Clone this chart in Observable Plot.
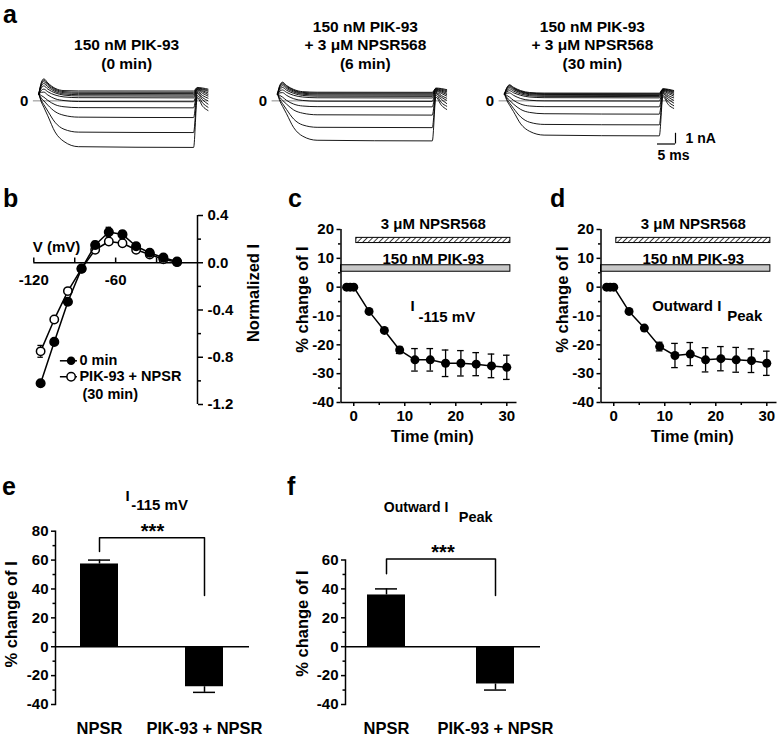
<!DOCTYPE html>
<html>
<head>
<meta charset="utf-8">
<script src="https://cdn.jsdelivr.net/npm/d3@7"></script>
<script src="https://cdn.jsdelivr.net/npm/@observablehq/plot@0.6"></script>
<style>
  body { margin: 0; background: #fff; }
  #fig { position: relative; width: 777px; height: 739px; overflow: hidden; background: #fff;
         font-family: 'Liberation Sans', Arial, Helvetica, sans-serif; font-weight: bold; color: #000; }
  .lab { position: absolute; font-size: 25px; font-weight: bold; line-height: 1; }
</style>
</head>
<body>
<svg width="0" height="0" style="position:absolute">
  <defs>
    <pattern id="hatch" patternUnits="userSpaceOnUse" width="3.8" height="3.8" patternTransform="rotate(45)">
      <rect width="3.8" height="3.8" fill="#fff"></rect>
      <line x1="0" y1="0" x2="0" y2="3.8" stroke="#000" stroke-width="1.5"></line>
    </pattern>
  </defs>
</svg>
<div id="fig"></div>
<script>
// ================= DATA =================
// Panel a: current traces (time in ms, current in nA), one row per voltage step
const traceTimes = [0, 0.7, 1.4, 2.5, 4.5, 7, 11, 43, 44, 45.5, 47];
const traceSteps = [-115, -105, -95, -85, -75, -65, -55, -45, -35, -25, -15];
const traces0min = [
  [0.65, -0.1, -0.6, -1.4, -2.9, -3.8, -4.28, -4.35, 0.3, -0.5, -0.9],
  [0.65, 0.05, -0.35, -0.95, -2.0, -2.65, -2.92, -2.96, 0.5, -0.2, -0.6],
  [0.65, 0.25, 0.0, -0.4, -1.0, -1.35, -1.52, -1.56, 0.7, 0.1, -0.3],
  [0.65, 0.5, 0.35, 0.05, -0.35, -0.55, -0.63, -0.65, 0.8, 0.3, 0.0],
  [0.65, 0.8, 0.82, 0.55, 0.2, 0.03, -0.06, -0.08, 0.9, 0.5, 0.25],
  [0.65, 0.98, 1.1, 0.85, 0.55, 0.37, 0.3, 0.28, 1.0, 0.7, 0.45],
  [0.65, 1.2, 1.4, 1.1, 0.75, 0.54, 0.46, 0.44, 1.05, 0.85, 0.6],
  [0.65, 1.38, 1.62, 1.3, 0.88, 0.65, 0.58, 0.56, 1.1, 0.95, 0.75],
  [0.65, 1.52, 1.8, 1.45, 1.0, 0.76, 0.7, 0.68, 1.15, 1.05, 0.9],
  [0.65, 1.62, 1.95, 1.58, 1.1, 0.86, 0.81, 0.8, 1.2, 1.12, 1.0],
  [0.65, 1.72, 2.06, 1.68, 1.18, 0.96, 0.93, 0.92, 1.25, 1.2, 1.1]
];
const traces6min = [
  [0.65, -0.05, -0.5, -1.2, -2.5, -3.3, -3.68, -3.74, 0.35, -0.4, -0.8],
  [0.65, 0.1, -0.25, -0.8, -1.7, -2.25, -2.47, -2.5, 0.55, -0.15, -0.5],
  [0.65, 0.3, 0.05, -0.3, -0.85, -1.15, -1.3, -1.33, 0.7, 0.15, -0.25],
  [0.65, 0.5, 0.35, 0.05, -0.3, -0.48, -0.54, -0.56, 0.8, 0.35, 0.05],
  [0.65, 0.75, 0.77, 0.52, 0.2, 0.04, -0.03, -0.05, 0.9, 0.5, 0.25],
  [0.65, 0.92, 1.02, 0.8, 0.52, 0.36, 0.29, 0.27, 0.95, 0.7, 0.45],
  [0.65, 1.08, 1.25, 1.0, 0.7, 0.51, 0.44, 0.42, 1.0, 0.82, 0.6],
  [0.65, 1.22, 1.42, 1.15, 0.82, 0.62, 0.55, 0.53, 1.05, 0.92, 0.72],
  [0.65, 1.34, 1.56, 1.27, 0.92, 0.71, 0.65, 0.63, 1.1, 1.0, 0.85],
  [0.65, 1.43, 1.67, 1.37, 1.0, 0.79, 0.73, 0.72, 1.15, 1.08, 0.95],
  [0.65, 1.5, 1.75, 1.44, 1.07, 0.86, 0.81, 0.8, 1.2, 1.15, 1.05]
];
const traces30min = [
  [0.65, 0.0, -0.4, -1.0, -2.15, -2.85, -3.2, -3.27, 0.4, -0.35, -0.7],
  [0.65, 0.15, -0.2, -0.7, -1.5, -2.0, -2.2, -2.24, 0.55, -0.1, -0.45],
  [0.65, 0.3, 0.05, -0.3, -0.8, -1.08, -1.2, -1.24, 0.7, 0.15, -0.2],
  [0.65, 0.5, 0.35, 0.05, -0.3, -0.48, -0.54, -0.56, 0.8, 0.35, 0.05],
  [0.65, 0.72, 0.74, 0.52, 0.22, 0.06, 0.0, -0.02, 0.88, 0.5, 0.28],
  [0.65, 0.86, 0.95, 0.76, 0.52, 0.36, 0.3, 0.28, 0.92, 0.68, 0.45],
  [0.65, 0.98, 1.12, 0.92, 0.65, 0.48, 0.42, 0.4, 0.98, 0.8, 0.6],
  [0.65, 1.08, 1.26, 1.05, 0.76, 0.58, 0.52, 0.5, 1.02, 0.9, 0.72],
  [0.65, 1.16, 1.37, 1.14, 0.84, 0.66, 0.6, 0.58, 1.06, 0.97, 0.82],
  [0.65, 1.22, 1.45, 1.21, 0.9, 0.72, 0.67, 0.66, 1.1, 1.03, 0.9],
  [0.65, 1.27, 1.5, 1.27, 0.96, 0.78, 0.73, 0.72, 1.14, 1.08, 0.97]
];
const traceTitles = [
  "150 nM PIK-93\n(0 min)",
  "150 nM PIK-93\n+ 3 μM NPSR568\n(6 min)",
  "150 nM PIK-93\n+ 3 μM NPSR568\n(30 min)"
];
const scaleBarMs = 5;
const scaleBarNA = 1;

// Panel b: I-V relation (normalized current)
const ivVoltage = [-115, -105, -95, -85, -75, -65, -55, -45, -35, -25, -15];
const iv0min = [-1.02, -0.67, -0.33, -0.05, 0.15, 0.26, 0.24, 0.14, 0.085, 0.043, 0.01];
const iv0minErr = [0.02, 0.02, 0.03, 0.02, 0.03, 0.04, 0.03, 0.02, 0.02, 0.01, 0.01];
const ivDrug = [-0.75, -0.48, -0.24, -0.05, 0.11, 0.18, 0.165, 0.11, 0.07, 0.03, 0.005];
const ivDrugErr = [0.05, 0.02, 0.02, 0.02, 0.02, 0.02, 0.02, 0.02, 0.01, 0.01, 0.01];
const ivXTicks = [-120, -90, -60, -30];
const ivXTickLabels = [-120, -60];
const ivYTicks = [0.4, 0, -0.4, -0.8, -1.2];
const ivYMinor = [0.2, -0.2, -0.6, -1.0];
const ivLegend = ["0 min", "PIK-93 + NPSR", "(30 min)"];

// Panels c, d: time course (% change of I)
const timeMin = [-1.4, -0.7, 0, 3, 6, 9, 12, 15, 18, 21, 24, 27, 30];
const pctI115 = [0, 0, 0, -8.4, -15, -21.8, -25.2, -25.2, -26.4, -26.4, -26.7, -27.3, -27.8];
const pctI115Err = [0, 0, 0, 0.6, 0.8, 1.2, 3.9, 3.9, 4.6, 4.4, 4.0, 4.1, 4.2];
const pctIPeak = [0, 0, 0, -8.4, -14.2, -20.6, -23.7, -23.2, -25.2, -24.8, -25.2, -25.5, -26.4];
const pctIPeakErr = [0, 0, 0, 0.6, 0.8, 1.5, 4.2, 4.0, 4.2, 4.2, 4.3, 4.1, 4.2];
const timeTicks = [0, 10, 20, 30];
const timeMinor = [5, 15, 25];
const pctTicks = [-40, -30, -20, -10, 0, 10, 20];
const pctMinor = [-35, -25, -15, -5, 5, 15];
const npsrBar = [0.5, 30.7];     // application period (min)
const npsrBarLevel = [15.3, 17.1];
const pikBar = [-2.5, 30.7];
const pikBarLevel = [5.35, 7.6];

// Panels e, f: summary bars
const barCats = ["NPSR", "PIK-93 + NPSR"];
const pctChangeI115 = [57.3, -27.7];
const pctChangeI115Err = [2.7, 3.9];
const pctChangePeak = [35.8, -25.8];
const pctChangePeakErr = [4.2, 4.2];
const sigE = {top: 75.4, left: 65.9, right: 35.5, star: 79.5, label: "***"};
const sigF = {top: 60.7, left: 50.5, right: 35.5, star: 65.3, label: "***"};

// ================= DRAWING =================
const fig = document.getElementById("fig");
const FONT = "'Liberation Sans', Arial, Helvetica, sans-serif";
const baseStyle = {fontFamily: FONT, fontSize: "15px", fontWeight: "bold", background: "transparent", overflow: "visible", color: "#000"};
function place(el, left, top) {
  el.style.position = "absolute";
  el.style.left = left + "px";
  el.style.top = top + "px";
  fig.appendChild(el);
}
function letter(ch, left, top) {
  const d = document.createElement("div");
  d.className = "lab"; d.textContent = ch;
  d.style.left = left + "px"; d.style.top = top + "px";
  fig.appendChild(d);
}

// ---- Panel a
function tracePanel(title, traces, left, width, t0px, withScale) {
  const rows = [];
  traces.forEach((arr, i) => arr.forEach((I, j) => rows.push({step: traceSteps[i], t: traceTimes[j], I})));
  const pxPerMs = 3.6;
  const tMax = traceTimes[traceTimes.length - 1];
  const ml = t0px - left;
  const mr = width - ml - tMax * pxPerMs;
  const marks = [
    Plot.ruleY([0], {x1: -1.5, x2: tMax, stroke: "#8a8a8a", strokeWidth: 1}),
    Plot.text(["0"], {x: -1.5, y: 0, dx: -5, textAnchor: "end", lineAnchor: "middle", fontSize: 15}),
    Plot.line(rows, {x: "t", y: "I", z: "step", curve: "monotone-x", stroke: "#000", strokeWidth: 0.9}),
    Plot.text([title], {x: 24.4, frameAnchor: "top", dy: 68.5, lineAnchor: "bottom", lineHeight: 1.2, fontSize: 15.5})
  ];
  if (withScale) {
    const xEnd = 47.5, yBot = -4.03;
    marks.push(
      Plot.ruleY([yBot], {x1: xEnd - scaleBarMs, x2: xEnd, strokeWidth: 1.2}),
      Plot.ruleX([xEnd], {y1: yBot, y2: yBot + scaleBarNA, strokeWidth: 1.2}),
      Plot.text([`${scaleBarNA} nA`], {x: xEnd, y: yBot + scaleBarNA / 2, dx: 10, textAnchor: "start", lineAnchor: "middle", fontSize: 14}),
      Plot.text([`${scaleBarMs} ms`], {x: xEnd - scaleBarMs / 2, y: yBot, dx: 7, dy: 16.5, lineAnchor: "bottom", fontSize: 14})
    );
  }
  const p = Plot.plot({
    width, height: 171,
    marginLeft: ml, marginRight: mr, marginTop: 0, marginBottom: 0,
    x: {domain: [0, tMax], axis: null},
    y: {domain: [-6.6, 9.38], axis: null},
    style: baseStyle,
    marks
  });
  place(p, left, 0);
}
tracePanel(traceTitles[0], traces0min, 0, 240, 38.3, false);
tracePanel(traceTitles[1], traces6min, 240, 230, 277, false);
tracePanel(traceTitles[2], traces30min, 470, 307, 504, true);

// ---- Panel b
{
  const r0 = ivVoltage.map((v, i) => ({v, I: iv0min[i], e: iv0minErr[i]}));
  const r1 = ivVoltage.map((v, i) => ({v, I: ivDrug[i], e: ivDrugErr[i]}));
  const errMarks = (rows) => [
    Plot.ruleX(rows, {x: "v", y1: d => d.I - d.e, y2: d => d.I + d.e, strokeWidth: 1.3}),
    Plot.ruleY(rows.flatMap(d => [{v: d.v, y: d.I - d.e}, {v: d.v, y: d.I + d.e}]), {y: "y", x1: d => d.v - 2, x2: d => d.v + 2, strokeWidth: 1.3})
  ];
  const lx = [-100.5, -88.0], mx = -92.65, ly = [-0.83, -0.965, -1.11];
  const p = Plot.plot({
    width: 270, height: 220,
    marginLeft: 33.3, marginRight: 73, marginTop: 20, marginBottom: 11,
    x: {domain: [-120, 0], axis: null},
    y: {domain: [-1.2, 0.4]},
    style: baseStyle,
    marks: [
      Plot.ruleY([0], {strokeWidth: 1.5}),
      Plot.ruleX([0], {strokeWidth: 1.5}),
      Plot.ruleX(ivXTicks, {x: d => d, y1: 0, y2: 0.04, strokeWidth: 1.5}),
      Plot.text(ivXTickLabels, {x: d => d, y: 0, dy: 17, text: d => String(d), lineAnchor: "middle", fontSize: 15}),
      Plot.text(["V (mV)"], {frameAnchor: "left", y: 0, dx: -1, dy: -11, textAnchor: "start", lineAnchor: "bottom", fontSize: 15}),
      Plot.axisY({anchor: "right", ticks: ivYTicks, tickSize: 5, tickPadding: 5, tickFormat: d => d.toFixed(1), label: null, strokeWidth: 1.5, fontSize: 15}),
      Plot.axisY({anchor: "right", ticks: ivYMinor, tickSize: 3, tickFormat: () => "", label: null, strokeWidth: 1.5}),
      Plot.text(["Normalized I"], {frameAnchor: "right", dx: 56.5, dy: -17, rotate: -90, textAnchor: "middle", lineAnchor: "middle", fontSize: 16.5}),
      ...errMarks(r1),
      Plot.line(r1, {x: "v", y: "I", strokeWidth: 1.5}),
      Plot.dot(r1, {x: "v", y: "I", r: 4.2, fill: "#fff", stroke: "#000", strokeWidth: 1.5}),
      ...errMarks(r0),
      Plot.line(r0, {x: "v", y: "I", strokeWidth: 1.5}),
      Plot.dot(r0, {x: "v", y: "I", r: 4.3, fill: "#000", stroke: "#000"}),
      // legend
      Plot.ruleY([ly[0]], {x1: lx[0], x2: lx[1], strokeWidth: 1.5}),
      Plot.dot([0], {x: mx, y: ly[0], r: 4.3, fill: "#000"}),
      Plot.ruleY([ly[1]], {x1: lx[0], x2: lx[1], strokeWidth: 1.5}),
      Plot.dot([0], {x: mx, y: ly[1], r: 4.2, fill: "#fff", stroke: "#000", strokeWidth: 1.5}),
      Plot.text([ivLegend[0]], {x: lx[1], y: ly[0], dx: 2, textAnchor: "start", lineAnchor: "middle", fontSize: 14.5}),
      Plot.text([ivLegend[1]], {x: lx[1], y: ly[1], dx: 2, textAnchor: "start", lineAnchor: "middle", fontSize: 14.5}),
      Plot.text([ivLegend[2]], {x: lx[1], y: ly[2], dx: 5, textAnchor: "start", lineAnchor: "middle", fontSize: 14.5})
    ]
  });
  place(p, 0, 195);
}

// ---- Panels c, d
function timePanel(left, width, values, errs, titleMarks) {
  const rows = timeMin.map((t, i) => ({t, v: values[i], e: errs[i]}));
  const withErr = rows.filter(d => d.e > 1);
  const xd = [-2.5, 32], yd = [-40, 20];
  const mid = (npsrBar[0] + npsrBar[1]) / 2;
  const p = Plot.plot({
    width, height: 250,
    marginLeft: 70.5, marginRight: width - 70.5 - 176, marginTop: 29, marginBottom: 48,
    x: {domain: xd},
    y: {domain: yd},
    style: baseStyle,
    marks: [
      Plot.rect([npsrBar], {x1: d => d[0], x2: d => d[1], y1: npsrBarLevel[0], y2: npsrBarLevel[1], fill: "url(#hatch)", stroke: "#000", strokeWidth: 1}),
      Plot.rect([pikBar], {x1: d => d[0], x2: d => d[1], y1: pikBarLevel[0], y2: pikBarLevel[1], fill: "#c8c8c8", stroke: "#000", strokeWidth: 1}),
      Plot.text(["3 μM NPSR568"], {x: mid, y: npsrBarLevel[1], dy: -9, lineAnchor: "bottom", fontSize: 15}),
      Plot.text(["150 nM PIK-93"], {x: mid, y: pikBarLevel[1], dy: -1.5, lineAnchor: "bottom", fontSize: 15}),
      Plot.ruleX(withErr, {x: "t", y1: d => d.v - d.e, y2: d => d.v + d.e, strokeWidth: 1.3}),
      Plot.ruleY(withErr.flatMap(d => [{t: d.t, y: d.v - d.e}, {t: d.t, y: d.v + d.e}]), {y: "y", x1: d => d.t - 0.65, x2: d => d.t + 0.65, strokeWidth: 1.3}),
      Plot.line(rows, {x: "t", y: "v", strokeWidth: 1.5}),
      Plot.dot(rows, {x: "t", y: "v", r: 4.5, fill: "#000"}),
      Plot.ruleX([xd[0]], {strokeWidth: 1.5}),
      Plot.ruleY([yd[0]], {strokeWidth: 1.5}),
      Plot.axisY({ticks: pctTicks, tickSize: 4, tickPadding: 3, tickFormat: d => String(d), label: null, strokeWidth: 1.5, fontSize: 15}),
      Plot.axisY({ticks: pctMinor, tickSize: 2.5, tickFormat: () => "", label: null, strokeWidth: 1.5}),
      Plot.axisX({ticks: timeTicks, tickSize: 4, tickPadding: 4, tickFormat: d => String(d), label: null, strokeWidth: 1.5, fontSize: 15}),
      Plot.axisX({ticks: timeMinor, tickSize: 3, tickFormat: () => "", label: null, strokeWidth: 1.5}),
      Plot.text(["% change of I"], {frameAnchor: "left", dx: -38.5, dy: -16.5, rotate: -90, textAnchor: "middle", lineAnchor: "middle", fontSize: 16.5}),
      Plot.text(["Time (min)"], {frameAnchor: "bottom", dx: 3.3, dy: 39.7, lineAnchor: "bottom", fontSize: 16.5}),
      ...titleMarks
    ]
  });
  place(p, left, 200);
}
timePanel(270, 260, pctI115, pctI115Err, [
  Plot.text(["I"], {frameAnchor: "top-left", dx: 69.5, dy: 81, textAnchor: "start", lineAnchor: "bottom", fontSize: 15}),
  Plot.text(["-115 mV"], {frameAnchor: "top-left", dx: 77.5, dy: 92, textAnchor: "start", lineAnchor: "bottom", fontSize: 15})
]);
timePanel(530, 247, pctIPeak, pctIPeakErr, [
  Plot.text(["Outward I"], {frameAnchor: "top-left", dx: 51.2, dy: 81, textAnchor: "start", lineAnchor: "bottom", fontSize: 15}),
  Plot.text(["Peak"], {frameAnchor: "top-left", dx: 126.2, dy: 91.7, textAnchor: "start", lineAnchor: "bottom", fontSize: 15})
]);

// ---- Panels e, f
function barPanel(o) {
  const rows = barCats.map((c, i) => ({cat: c, v: o.values[i], tip: o.values[i] + Math.sign(o.values[i]) * o.errs[i]}));
  const br = [
    {cat: barCats[0], y: o.sig.left}, {cat: barCats[0], y: o.sig.top},
    {cat: barCats[1], y: o.sig.top}, {cat: barCats[1], y: o.sig.right}
  ];
  const p = Plot.plot({
    width: o.width, height: 269,
    marginLeft: o.ml, marginRight: o.width - o.ml - o.w, marginTop: o.mt, marginBottom: 35,
    x: {type: "band", domain: barCats, paddingInner: o.pad[0], paddingOuter: o.pad[1], align: o.align},
    y: {domain: o.domain},
    style: baseStyle,
    marks: [
      Plot.barY(rows, {x: "cat", y: "v", fill: "#000"}),
      Plot.ruleX(rows, {x: "cat", y1: "v", y2: "tip", strokeWidth: 1.5}),
      Plot.tickY(rows, {x: "cat", y: "tip", strokeWidth: 1.5, insetLeft: 8, insetRight: 8}),
      Plot.ruleY([0], {strokeWidth: 1.5}),
      Plot.frame({anchor: "left", strokeWidth: 1.5}),
      Plot.axisY({ticks: o.ticks, tickSize: 4, tickPadding: 3, tickFormat: d => String(d), label: null, strokeWidth: 1.5, fontSize: 15}),
      Plot.axisY({ticks: o.minor, tickSize: 2.5, tickFormat: () => "", label: null, strokeWidth: 1.5}),
      Plot.axisX({tickSize: 0, tickPadding: 18, label: null, fontSize: 16.5}),
      Plot.line(br, {x: "cat", y: "y", strokeWidth: 1.5}),
      Plot.text([o.sig.label], {y: () => o.sig.star, frameAnchor: "middle", lineAnchor: "middle", fontSize: 20}),
      Plot.text(["% change of I"], {frameAnchor: "left", dx: o.ylab[0], dy: o.ylab[1], rotate: -90, textAnchor: "middle", lineAnchor: "middle", fontSize: 16.5}),
      ...o.titleMarks
    ]
  });
  place(p, o.left, 470);
}
barPanel({
  left: 0, width: 262, ml: 55, w: 194, mt: 60.7, domain: [-40, 80],
  ticks: [-40, -20, 0, 20, 40, 60, 80], minor: [-30, -10, 10, 30, 50, 70],
  values: pctChangeI115, errs: pctChangeI115Err, pad: [0.638, 0.237], align: 0.5,
  sig: sigE, ylab: [-44, -3.4],
  titleMarks: [
    Plot.text(["I"], {frameAnchor: "top-left", dx: 70, dy: -30.7, textAnchor: "start", lineAnchor: "bottom", fontSize: 15}),
    Plot.text(["-115 mV"], {frameAnchor: "top-left", dx: 75.7, dy: -21.4, textAnchor: "start", lineAnchor: "bottom", fontSize: 15})
  ]
});
barPanel({
  left: 262, width: 293, ml: 83, w: 195, mt: 89.5, domain: [-40, 60],
  ticks: [-40, -20, 0, 20, 40, 60], minor: [-30, -10, 10, 30, 50],
  values: pctChangePeak, errs: pctChangePeakErr, pad: [0.65, 0.217], align: 0.46,
  sig: sigF, ylab: [-42.5, -8.7],
  titleMarks: [
    Plot.text(["Outward I"], {frameAnchor: "top-left", dx: 38.3, dy: -47.8, textAnchor: "start", lineAnchor: "bottom", fontSize: 14}),
    Plot.text(["Peak"], {frameAnchor: "top-left", dx: 113.3, dy: -38.5, textAnchor: "start", lineAnchor: "bottom", fontSize: 14.5})
  ]
});

// ---- Panel letters
letter("a", 3, 2);
letter("b", 3, 186);
letter("c", 288, 186);
letter("d", 550, 186);
letter("e", 2, 474);
letter("f", 287, 474);
</script>
</body>
</html>
